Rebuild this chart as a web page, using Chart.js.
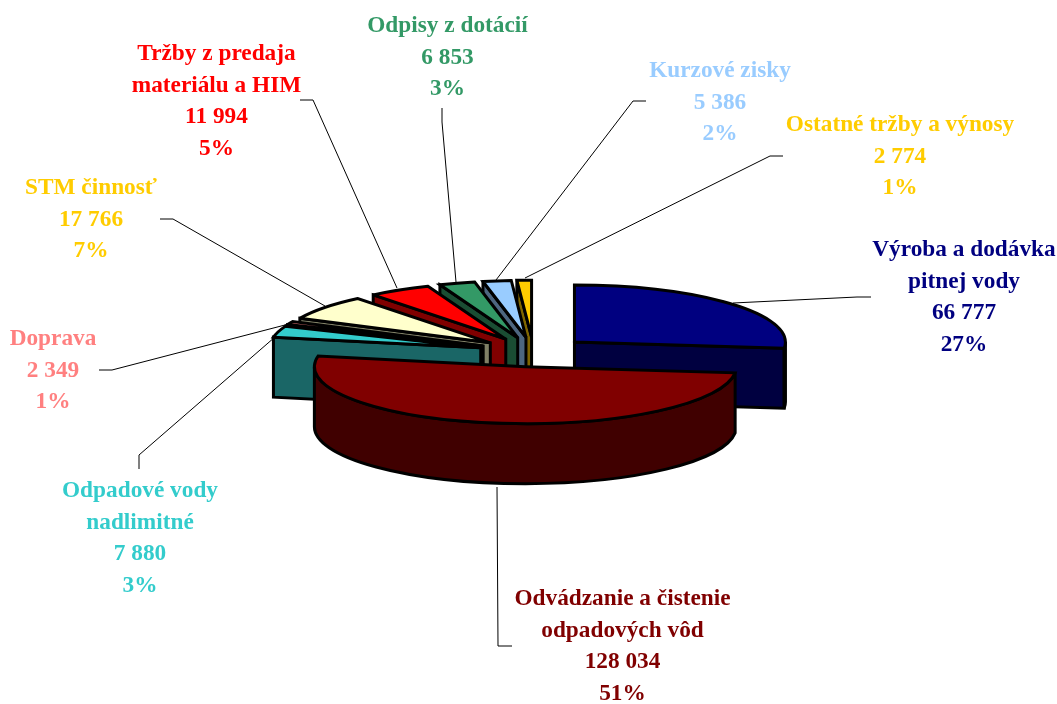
<!DOCTYPE html>
<html lang="sk">
<head>
<meta charset="utf-8">
<title>Výnosy</title>
<script src="https://cdn.jsdelivr.net/npm/chart.js@4/dist/chart.umd.js"></script>
<style>
    html, body { margin: 0; padding: 0; background: #fff; }
    #wrap { position: relative; width: 1057px; height: 704px; }
</style>
</head>
<body>
<div id="wrap"><canvas id="chart"></canvas></div>
<script>
const categories = [
    'Výroba a dodávka pitnej vody',
    'Odvádzanie a čistenie odpadových vôd',
    'Odpadové vody nadlimitné',
    'Doprava',
    'STM činnosť',
    'Tržby z predaja materiálu a HIM',
    'Odpisy z dotácií',
    'Kurzové zisky',
    'Ostatné tržby a výnosy'
]
const values = [66777, 128034, 7880, 2349, 17766, 11994, 6853, 5386, 2774]
const topColors = ['#000080', '#800000', '#33CCCC', '#FF8080', '#FFFFCC', '#FF0000', '#339966', '#99CCFF', '#FFCC00']
const wallColors = ['#000040', '#400000', '#1A6666', '#804040', '#808066', '#800000', '#1A4D33', '#4D6680', '#806600']
const textColors = ['#000080', '#800000', '#33CCCC', '#FF8080', '#FFCC00', '#FF0000', '#339966', '#99CCFF', '#FFCC00']

// how the category names wrap in the labels
const labelLines = [
    ['Výroba a dodávka', 'pitnej vody'],
    ['Odvádzanie a čistenie', 'odpadových vôd'],
    ['Odpadové vody', 'nadlimitné'],
    ['Doprava'],
    ['STM činnosť'],
    ['Tržby z predaja', 'materiálu a HIM'],
    ['Odpisy z dotácií'],
    ['Kurzové zisky'],
    ['Ostatné tržby a výnosy']
]

// label block: center x and middle of the first line
const labelAnchors = [[964, 250], [622.5, 599], [140, 491], [53, 339], [91, 188], [216.5, 54], [447.5, 26], [720, 71], [900, 125]]
const leaderLines = [
    [[733, 303], [857, 297], [871, 297]],
    [[497, 487], [498, 646], [512, 646]],
    [[275, 337], [139, 455], [139, 469]],
    [[285, 325], [112, 370], [99, 370]],
    [[325, 306], [173, 219], [160, 219]],
    [[397, 288], [313, 100], [300, 100]],
    [[456, 282], [442, 122], [442, 108]],
    [[496, 280], [633, 101], [646, 101]],
    [[525, 278], [770, 156], [783, 156]]
]

const total = values.reduce((a, b) => a + b, 0)
const thousands = (v) => String(v).replace(/\B(?=(\d{3})+$)/g, ' ')

// back to front
const drawOrder = [0, 8, 7, 6, 5, 4, 3, 2, 1]
const squash = 0.27
const explode = 55
const depth = 60

function wall(ctx, x, y, r, a) {
    const px = x + r * Math.cos(a)
    const py = y + r * squash * Math.sin(a)
    ctx.beginPath()
    ctx.moveTo(x, y)
    ctx.lineTo(px, py)
    ctx.lineTo(px, py + depth)
    ctx.lineTo(x, y + depth)
    ctx.closePath()
    ctx.fill()
    ctx.stroke()
}

function drawSlice(ctx, arc, index) {
    const {x, y, startAngle, endAngle, outerRadius: r} = arc.getProps(['x', 'y', 'startAngle', 'endAngle', 'outerRadius'], true)
    const mid = (startAngle + endAngle) / 2
    const ox = x + explode * Math.cos(mid)
    const oy = y + explode * squash * Math.sin(mid)

    ctx.lineWidth = 3
    ctx.lineJoin = 'miter'
    ctx.miterLimit = 3
    ctx.strokeStyle = '#000'
    ctx.fillStyle = wallColors[index]

    // only the cut faces turned towards the viewer
    if (Math.sin(startAngle - Math.PI / 2) > 1e-6) wall(ctx, ox, oy, r, startAngle)
    if (Math.sin(endAngle + Math.PI / 2) > 1e-6) wall(ctx, ox, oy, r, endAngle)

    const from = Math.max(startAngle, 0)
    const to = Math.min(endAngle, Math.PI)
    if (to > from) {
        ctx.beginPath()
        ctx.ellipse(ox, oy, r, r * squash, 0, from, to)
        ctx.lineTo(ox + r * Math.cos(to), oy + r * squash * Math.sin(to) + depth)
        ctx.ellipse(ox, oy + depth, r, r * squash, 0, to, from, true)
        ctx.closePath()
        ctx.fill()
        ctx.stroke()
    }

    ctx.fillStyle = topColors[index]
    ctx.beginPath()
    ctx.moveTo(ox, oy)
    ctx.ellipse(ox, oy, r, r * squash, 0, startAngle, endAngle)
    ctx.closePath()
    ctx.fill()
    ctx.stroke()
}

const pie3d = {
    id: 'pie3d',
    beforeDatasetDraw(chart, args) {
        const ctx = chart.ctx
        const arcs = chart.getDatasetMeta(args.index).data
        ctx.save()
        leaderLines.forEach((points) => {
            ctx.beginPath()
            points.forEach(([px, py], i) => i ? ctx.lineTo(px, py) : ctx.moveTo(px, py))
            ctx.lineWidth = 1
            ctx.strokeStyle = '#000'
            ctx.stroke()
        })
        drawOrder.forEach((i) => drawSlice(ctx, arcs[i], i))
        ctx.restore()
        return false
    },
    afterDraw(chart) {
        const ctx = chart.ctx
        ctx.save()
        ctx.font = 'bold 23.3px "Liberation Serif"'
        ctx.textAlign = 'center'
        ctx.textBaseline = 'middle'
        labelLines.forEach((lines, i) => {
            const rows = [...lines, thousands(values[i]), Math.round(values[i] / total * 100) + '%']
            ctx.fillStyle = textColors[i]
            rows.forEach((row, r) => ctx.fillText(row, labelAnchors[i][0], labelAnchors[i][1] + r * 31.6))
        })
        ctx.restore()
    }
}

new Chart(document.getElementById('chart'), {
    type: 'pie',
    data: {
        labels: categories,
        datasets: [{
            data: values,
            backgroundColor: topColors,
            borderWidth: 0
        }]
    },
    options: {
        responsive: true,
        maintainAspectRatio: false,
        animation: false,
        layout: {
            padding: {left: 10, right: 0, top: 141, bottom: 141}
        },
        plugins: {
            legend: {display: false},
            tooltip: {enabled: false}
        }
    },
    plugins: [pie3d]
})
</script>
</body>
</html>
